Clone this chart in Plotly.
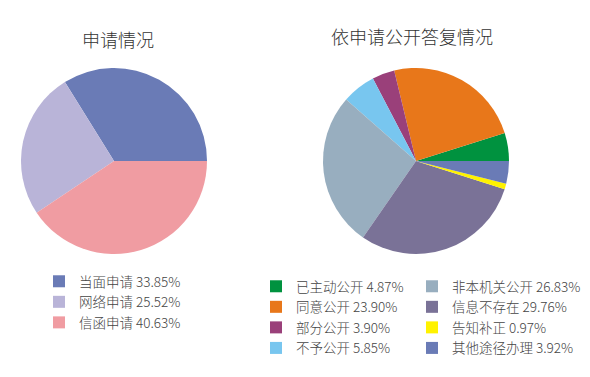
import plotly.graph_objects as go

# ---- data ----
left_title = "申请情况"
left_labels = ["当面申请", "网络申请", "信函申请"]
left_values = [33.85, 25.52, 40.63]
left_colors = ["#6a7bb6", "#b9b4d8", "#f09ca2"]

right_title = "依申请公开答复情况"
right_labels = ["已主动公开", "同意公开", "部分公开", "不予公开",
                "非本机关公开", "信息不存在", "告知补正", "其他途径办理"]
right_values = [4.87, 23.90, 3.90, 5.85, 26.83, 29.76, 0.97, 3.92]
right_colors = ["#00923f", "#e8771a", "#9a407a", "#78c6ef",
                "#98aebf", "#7a7297", "#fff200", "#6a7bb6"]

FONT = "Noto Sans CJK SC"
TXT = "#444444"
TITLE_TXT = "#333333"

def fmt(lbl, v):
    return f"{lbl} {v:.2f}%"

def start_rotation(values):
    # plotly's counterclockwise pies put the first slice clockwise of `rotation`;
    # shift so the first slice starts at 3 o'clock and runs counterclockwise
    return 90 - values[0] / sum(values) * 360

W, H = 590, 377
def px_x(x):
    return x / W
def px_y(y):
    return 1 - y / H

fig = go.Figure()

fig.add_trace(go.Pie(
    labels=[fmt(l, v) for l, v in zip(left_labels, left_values)],
    values=left_values,
    marker=dict(colors=left_colors, line=dict(width=0)),
    sort=False, direction="counterclockwise", rotation=start_rotation(left_values),
    textinfo="none", hoverinfo="label",
    domain=dict(x=[px_x(21), px_x(207)], y=[px_y(254), px_y(68)]),
    legend="legend", showlegend=True,
))

fig.add_trace(go.Pie(
    labels=right_labels,
    values=right_values,
    marker=dict(colors=right_colors, line=dict(width=0)),
    sort=False, direction="counterclockwise", rotation=start_rotation(right_values),
    textinfo="none", hoverinfo="label+percent",
    domain=dict(x=[px_x(323), px_x(509)], y=[px_y(254), px_y(68)]),
    showlegend=False,
))

# right legend entries (two columns of four)
half = len(right_labels) // 2
for i, (l, v, c) in enumerate(zip(right_labels, right_values, right_colors)):
    fig.add_trace(go.Scatter(
        x=[None], y=[None], mode="markers",
        marker=dict(symbol="square", size=12, color=c),
        name=fmt(l, v),
        legend="legend2" if i < half else "legend3",
        showlegend=True, hoverinfo="skip",
    ))

legend_common = dict(
    orientation="v", xanchor="left", yanchor="top",
    bgcolor="rgba(0,0,0,0)", borderwidth=0,
    font=dict(family=FONT, size=13.5, color=TXT, weight=300),
    itemclick=False, itemdoubleclick=False,
    tracegroupgap=0,
)

fig.update_layout(
    width=W, height=H,
    margin=dict(l=0, r=0, t=0, b=0),
    paper_bgcolor="white", plot_bgcolor="white",
    font=dict(family=FONT, color=TXT),
    xaxis=dict(visible=False), yaxis=dict(visible=False),
    legend=dict(x=px_x(39), y=px_y(266), **legend_common),
    legend2=dict(x=px_x(256), y=px_y(271), **legend_common),
    legend3=dict(x=px_x(412), y=px_y(271), **legend_common),
    annotations=[
        dict(text=left_title, x=px_x(118), y=px_y(39), xref="paper", yref="paper",
             showarrow=False, xanchor="center", yanchor="middle",
             font=dict(family=FONT, size=18, color=TITLE_TXT, weight=300)),
        dict(text=right_title, x=px_x(412), y=px_y(36), xref="paper", yref="paper",
             showarrow=False, xanchor="center", yanchor="middle",
             font=dict(family=FONT, size=18, color=TITLE_TXT, weight=300)),
    ],
)

fig.write_html("out.html")
